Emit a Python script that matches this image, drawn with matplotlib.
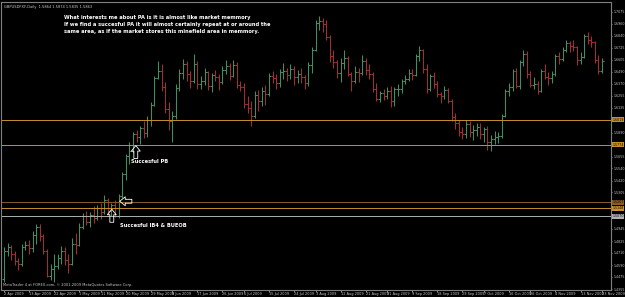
import numpy as np
import pandas as pd
import matplotlib
matplotlib.use("Agg")
from matplotlib import pyplot as plt
from matplotlib import transforms

# trading days shown on the chart
dates = pd.bdate_range("2009-04-02", "2009-11-23")

opens = [1.4450, 1.4730, 1.4770, 1.4700, 1.4630, 1.4600, 1.4770, 1.4790, 1.4760, 1.4890, 1.4960,
         1.4880, 1.4730, 1.4480, 1.4550, 1.4580, 1.4660, 1.4730, 1.4640, 1.4600, 1.4800,
         1.4790, 1.4960, 1.5070, 1.5010, 1.5080, 1.5050, 1.5150, 1.5110, 1.5230, 1.5120, 1.5180,
         1.5070, 1.5270, 1.5480, 1.5660, 1.5710, 1.5880, 1.5850, 1.5940, 1.5890, 1.6010,
         1.6160, 1.6430, 1.6500, 1.6340, 1.6120, 1.6000, 1.6050, 1.6330, 1.6480, 1.6560, 1.6470,
         1.6400, 1.6560, 1.6370, 1.6400, 1.6490, 1.6350, 1.6460, 1.6440, 1.6390, 1.6510, 1.6540,
         1.6450, 1.6550, 1.6360, 1.6340, 1.6170, 1.6130, 1.6050, 1.6260, 1.6200, 1.6300, 1.6270,
         1.6450, 1.6430, 1.6380, 1.6490, 1.6500, 1.6460, 1.6520, 1.6440, 1.6470, 1.6440, 1.6380, 1.6550,
         1.6700, 1.6970, 1.6990, 1.6960, 1.6830, 1.6640, 1.6580, 1.6480, 1.6570, 1.6620, 1.6470,
         1.6400, 1.6490, 1.6480, 1.6590, 1.6510, 1.6470, 1.6320, 1.6220, 1.6280, 1.6250,
         1.6300, 1.6200, 1.6320, 1.6320, 1.6400, 1.6420, 1.6480, 1.6460, 1.6640, 1.6700, 1.6520,
         1.6320, 1.6450, 1.6370, 1.6270, 1.6250, 1.6310, 1.6200, 1.6040, 1.5990, 1.5900, 1.5880,
         1.5980, 1.5900, 1.5920, 1.5950, 1.5880, 1.5930, 1.5800, 1.5830, 1.5850, 1.5860, 1.6050,
         1.6300, 1.6340, 1.6500, 1.6350, 1.6580, 1.6660, 1.6470, 1.6360, 1.6370, 1.6300, 1.6500,
         1.6440, 1.6430, 1.6470, 1.6640, 1.6610, 1.6700, 1.6770, 1.6740, 1.6730, 1.6600, 1.6630,
         1.6840, 1.6800, 1.6780, 1.6600, 1.6500]
highs = [1.4770, 1.4810, 1.4790, 1.4730, 1.4660, 1.4800, 1.4830, 1.4840, 1.4930, 1.4990, 1.4990,
         1.4900, 1.4750, 1.4600, 1.4700, 1.4700, 1.4780, 1.4770, 1.4700, 1.4860, 1.4910,
         1.5000, 1.5100, 1.5120, 1.5110, 1.5170, 1.5180, 1.5200, 1.5280, 1.5250, 1.5200, 1.5230,
         1.5290, 1.5500, 1.5680, 1.5800, 1.5900, 1.5920, 1.5960, 1.6000, 1.6050, 1.6190,
         1.6450, 1.6590, 1.6560, 1.6390, 1.6190, 1.6100, 1.6370, 1.6520, 1.6610, 1.6590, 1.6500,
         1.6660, 1.6590, 1.6450, 1.6530, 1.6500, 1.6480, 1.6510, 1.6470, 1.6540, 1.6600, 1.6570,
         1.6600, 1.6580, 1.6400, 1.6380, 1.6250, 1.6200, 1.6300, 1.6310, 1.6340, 1.6360, 1.6480,
         1.6500, 1.6470, 1.6520, 1.6570, 1.6530, 1.6560, 1.6540, 1.6510, 1.6530, 1.6460, 1.6580, 1.6730,
         1.7000, 1.7040, 1.7020, 1.7000, 1.6850, 1.6700, 1.6600, 1.6620, 1.6700, 1.6640, 1.6490,
         1.6540, 1.6530, 1.6650, 1.6620, 1.6560, 1.6490, 1.6380, 1.6300, 1.6320, 1.6340,
         1.6350, 1.6340, 1.6370, 1.6420, 1.6460, 1.6520, 1.6520, 1.6660, 1.6740, 1.6710, 1.6560,
         1.6470, 1.6490, 1.6400, 1.6290, 1.6350, 1.6330, 1.6220, 1.6080, 1.6010, 1.5950, 1.6010,
         1.6000, 1.5970, 1.5990, 1.5990, 1.5950, 1.5960, 1.5870, 1.5910, 1.5900, 1.6070, 1.6320,
         1.6380, 1.6520, 1.6530, 1.6600, 1.6700, 1.6690, 1.6500, 1.6440, 1.6400, 1.6520, 1.6560,
         1.6490, 1.6500, 1.6660, 1.6680, 1.6730, 1.6800, 1.6790, 1.6800, 1.6740, 1.6680,
         1.6860, 1.6880, 1.6840, 1.6790, 1.6650, 1.6620]
lows = [1.4420, 1.4680, 1.4640, 1.4590, 1.4540, 1.4580, 1.4740, 1.4700, 1.4720, 1.4800, 1.4830,
        1.4700, 1.4470, 1.4440, 1.4420, 1.4550, 1.4600, 1.4590, 1.4510, 1.4590, 1.4700,
        1.4780, 1.4940, 1.4980, 1.4960, 1.5000, 1.5030, 1.5040, 1.5090, 1.5090, 1.5070, 1.5060,
        1.5050, 1.5250, 1.5430, 1.5580, 1.5690, 1.5800, 1.5780, 1.5840, 1.5850, 1.5960,
        1.6150, 1.6420, 1.6300, 1.6080, 1.5920, 1.5800, 1.6020, 1.6300, 1.6420, 1.6400, 1.6330,
        1.6380, 1.6320, 1.6320, 1.6360, 1.6310, 1.6290, 1.6400, 1.6310, 1.6370, 1.6470, 1.6410,
        1.6440, 1.6330, 1.6300, 1.6130, 1.6080, 1.5960, 1.6030, 1.6100, 1.6150, 1.6160, 1.6250,
        1.6380, 1.6320, 1.6340, 1.6420, 1.6400, 1.6420, 1.6360, 1.6380, 1.6380, 1.6320, 1.6350, 1.6480,
        1.6690, 1.6900, 1.6880, 1.6800, 1.6580, 1.6530, 1.6430, 1.6390, 1.6520, 1.6450, 1.6300,
        1.6380, 1.6390, 1.6460, 1.6460, 1.6420, 1.6290, 1.6200, 1.6190, 1.6210, 1.6220,
        1.6140, 1.6150, 1.6250, 1.6280, 1.6370, 1.6400, 1.6410, 1.6450, 1.6590, 1.6480, 1.6280,
        1.6300, 1.6330, 1.6240, 1.6180, 1.6220, 1.6180, 1.6000, 1.5930, 1.5860, 1.5830, 1.5840,
        1.5850, 1.5820, 1.5860, 1.5830, 1.5800, 1.5720, 1.5710, 1.5780, 1.5790, 1.5840, 1.6040,
        1.6250, 1.6300, 1.6330, 1.6320, 1.6540, 1.6430, 1.6340, 1.6320, 1.6270, 1.6290, 1.6420,
        1.6360, 1.6380, 1.6450, 1.6560, 1.6590, 1.6680, 1.6680, 1.6690, 1.6550, 1.6560,
        1.6620, 1.6760, 1.6730, 1.6570, 1.6470, 1.6480]
closes = opens[1:] + [1.6590]

# horizontal levels drawn on the chart
levels = [1.6019, 1.5774, 1.5207, 1.5148, 1.5070]
level_colors = ["#c8902a", "#c8902a", "#8b5a2b", "#c8902a", "#b0b0b0"]

yticks = [1.7075, 1.6960, 1.6840, 1.6725, 1.6605, 1.6490, 1.6370, 1.6255, 1.6135,
          1.5890, 1.5655, 1.5540, 1.5420, 1.5305, 1.4945, 1.4825, 1.4710, 1.4590,
          1.4475, 1.4355]
xlabels = ["2 Apr 2009", "13 Apr 2009", "22 Apr 2009", "1 May 2009", "11 May 2009",
           "20 May 2009", "29 May 2009", "8 Jun 2009", "17 Jun 2009", "26 Jun 2009",
           "6 Jul 2009", "15 Jul 2009", "24 Jul 2009", "3 Aug 2009", "12 Aug 2009",
           "21 Aug 2009", "31 Aug 2009", "9 Sep 2009", "18 Sep 2009", "29 Sep 2009",
           "7 Oct 2009", "16 Oct 2009", "26 Oct 2009", "4 Nov 2009", "13 Nov 2009",
           "23 Nov 2009"]

up_col = "#3f9060"
dn_col = "#a03030"

fig = plt.figure(figsize=(6.25, 2.97), dpi=100, facecolor="black")
ax = fig.add_axes([0.0016, 7 / 297, 610 / 625, 288 / 297])
ax.set_facecolor("black")

x = np.arange(len(dates))
o = np.array(opens); h = np.array(highs); l = np.array(lows); c = np.array(closes)
cols = np.where(c >= o, up_col, dn_col)
ax.vlines(x, l, h, colors=cols, lw=0.75)
ax.hlines(o, x - 0.55, x, colors=cols, lw=0.75)
ax.hlines(c, x, x + 0.55, colors=cols, lw=0.75)

ax.set_xlim(-0.84, 169.5)
ax.set_ylim(1.4346, 1.7173)

for lv, col in zip(levels, level_colors):
    ax.axhline(lv, color=col, lw=0.7)
    ax.text(1.002, lv, f"{lv:.4f}", transform=transforms.blended_transform_factory(ax.transAxes, ax.transData),
            fontsize=2.3, color="black", va="center", ha="left",
            bbox=dict(fc=col, ec="none", pad=0.25), clip_on=False)

ax.yaxis.tick_right()
ax.set_yticks(yticks)
ax.set_yticklabels([f"{v:.4f}" for v in yticks])
ax.tick_params(axis="y", colors="#c8c8c8", labelsize=2.3, length=1.0, width=0.5, pad=0.6)

pos = [dates.get_indexer([pd.Timestamp(s)], method="nearest")[0] for s in xlabels]
ax.set_xticks(pos)
ax.set_xticklabels(xlabels, ha="left")
ax.tick_params(axis="x", colors="#c8c8c8", labelsize=2.5, length=1.2, width=0.5, pad=0.4)

for s in ax.spines.values():
    s.set_color("#808080")
    s.set_linewidth(0.8)

# annotations
ax.text(0.005, 0.99, "GBPUSDFXF,Daily  1.5864 1.5874 1.5835 1.5863", transform=ax.transAxes,
        color="#c8c8c8", fontsize=2.6, va="top")
ax.text(0.003, 0.012, "MetaTrader 4 at FOREX.com, \u00a9 2001-2009 MetaQuotes Software Corp.",
        transform=ax.transAxes, color="#c8c8c8", fontsize=2.6, va="bottom")
note = ("What interests me about PA is it is almost like market memmory\n"
        "If we find a succesful PA it will almost certainly repeat at or around the\n"
        "same area, as if the market stores this minefield area in memmory.")
ax.text(63 / 610, 0.955, note, transform=ax.transAxes, color="white", fontsize=3.7,
        fontweight="bold", va="top", linespacing=1.55)

ax.text(35.4, 1.5608, "Succesful PB", color="white", fontsize=3.7, fontweight="bold", va="center")
ax.text(32.3, 1.4982, "Succesful IB4 & BUEOB", color="white", fontsize=3.7, fontweight="bold", va="center")

aprops = dict(arrowstyle="simple,head_length=0.5,head_width=0.8,tail_width=0.35",
              fc="none", ec="white", lw=0.6, shrinkA=0, shrinkB=0, mutation_scale=8)
ax.annotate("", xy=(36.8, 1.5764), xytext=(36.8, 1.5637), arrowprops=aprops)
ax.annotate("", xy=(30.1, 1.5139), xytext=(30.1, 1.5011), arrowprops=aprops)
ax.annotate("", xy=(32.3, 1.5217), xytext=(35.7, 1.5217), arrowprops=aprops)

fig.savefig("out.png", dpi=100, facecolor="black")
